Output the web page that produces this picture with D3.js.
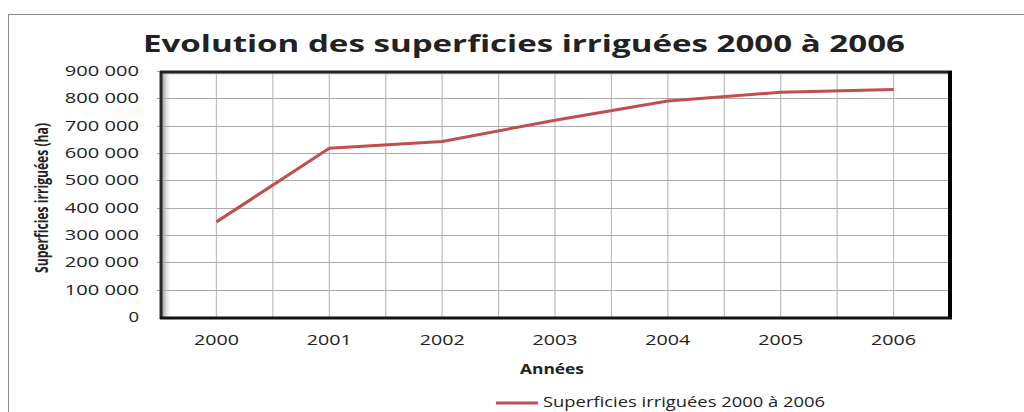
<!DOCTYPE html>
<html>
<head>
<meta charset="utf-8">
<script src="https://cdn.jsdelivr.net/npm/d3@7"></script>
<style>
  body { margin: 0; background: #fff; }
  text { font-family: "Open Sans", sans-serif; fill: #222; }
</style>
</head>
<body>
<div id="chart"></div>
<script>
    // data
    let years = ["2000", "2001", "2002", "2003", "2004", "2005", "2006"];
    let surfaces = [348000, 617000, 642000, 720000, 790000, 822000, 832000];
    let yTicks = [0, 100000, 200000, 300000, 400000, 500000, 600000, 700000, 800000, 900000];
    let seriesName = "Superficies irriguées 2000 à 2006";

    let svgWidth = 1024;
    let svgHeight = 412;
    let plot = {left: 160, top: 71, right: 950, bottom: 317};

    let svg = d3.select("#chart")
        .append("svg")
        .attr("width", svgWidth)
        .attr("height", svgHeight);

    // outer chart frame
    svg.append("rect")
        .attr("x", 8.5).attr("y", 14.5)
        .attr("width", 1030).attr("height", 420)
        .attr("fill", "none")
        .attr("stroke", "#8c8c8c")
        .attr("stroke-width", 1);

    let x = d3.scaleBand()
        .domain(years)
        .range([plot.left, plot.right]);

    let y = d3.scaleLinear()
        .domain([0, 900000])
        .range([plot.bottom, plot.top]);

    // shadow gradient inside left and top of plot
    let defs = svg.append("defs");
    let gl = defs.append("linearGradient").attr("id", "shL");
    gl.append("stop").attr("offset", "0%").attr("stop-color", "#555").attr("stop-opacity", 0.9);
    gl.append("stop").attr("offset", "100%").attr("stop-color", "#fff").attr("stop-opacity", 0);
    let gt = defs.append("linearGradient").attr("id", "shT").attr("x2", 0).attr("y2", 1);
    gt.append("stop").attr("offset", "0%").attr("stop-color", "#666").attr("stop-opacity", 0.8);
    gt.append("stop").attr("offset", "100%").attr("stop-color", "#fff").attr("stop-opacity", 0);

    svg.append("rect")
        .attr("x", plot.left).attr("y", plot.top)
        .attr("width", plot.right - plot.left).attr("height", plot.bottom - plot.top)
        .attr("fill", "#fff");
    svg.append("rect")
        .attr("x", plot.left).attr("y", plot.top)
        .attr("width", 12).attr("height", plot.bottom - plot.top)
        .attr("fill", "url(#shL)");
    svg.append("rect")
        .attr("x", plot.left).attr("y", plot.top)
        .attr("width", plot.right - plot.left).attr("height", 6)
        .attr("fill", "url(#shT)");

    // vertical grid: band edges and centres
    let vLines = [];
    years.forEach(d => {
        vLines.push(x(d));
        vLines.push(x(d) + x.bandwidth() / 2);
    });
    svg.append("g").selectAll("line")
        .data(vLines.slice(1))
        .enter()
        .append("line")
        .attr("x1", d => d).attr("x2", d => d)
        .attr("y1", plot.top).attr("y2", plot.bottom)
        .attr("stroke", "#bdbdbd")
        .attr("stroke-width", 1.2);

    // horizontal grid
    svg.append("g").selectAll("line")
        .data(yTicks.slice(1))
        .enter()
        .append("line")
        .attr("x1", plot.left - 3).attr("x2", plot.right)
        .attr("y1", d => Math.round(y(d)) + 0.5).attr("y2", d => Math.round(y(d)) + 0.5)
        .attr("stroke", "#ababab")
        .attr("stroke-width", 1);

    // y axis labels
    let fmt = d => d3.format(",")(d).replace(/,/g, " ");
    let leftAxis = d3.axisLeft(y)
        .tickValues(yTicks)
        .tickFormat(fmt)
        .tickSize(0)
        .tickPadding(21);
    let yAxis = svg.append("g")
        .attr("transform", `translate(${plot.left}, 0)`)
        .call(leftAxis);
    yAxis.select(".domain").remove();
    yAxis.selectAll("text")
        .style("font-family", "'Open Sans', sans-serif")
        .style("font-size", "14px")
        .attr("fill", "#333")
        .attr("textLength", d => fmt(d).length * 10.6)
        .attr("lengthAdjust", "spacingAndGlyphs");

    // x axis labels
    let bottomAxis = d3.axisBottom(x).tickSize(0).tickPadding(18);
    let xAxis = svg.append("g")
        .attr("transform", `translate(0, ${plot.bottom})`)
        .call(bottomAxis);
    xAxis.select(".domain").remove();
    xAxis.selectAll("text")
        .style("font-family", "'Open Sans', sans-serif")
        .style("font-size", "14px")
        .attr("fill", "#333")
        .attr("textLength", 45)
        .attr("lengthAdjust", "spacingAndGlyphs");

    // plot frame
    svg.append("line")
        .attr("x1", plot.left + 1).attr("x2", plot.left + 1)
        .attr("y1", plot.top).attr("y2", plot.bottom + 2)
        .attr("stroke", "#2a2a2a").attr("stroke-width", 3);
    svg.append("line")
        .attr("x1", plot.left).attr("x2", plot.right + 2)
        .attr("y1", plot.top + 1).attr("y2", plot.top + 1)
        .attr("stroke", "#222").attr("stroke-width", 3);
    svg.append("line")
        .attr("x1", plot.right).attr("x2", plot.right)
        .attr("y1", plot.top).attr("y2", plot.bottom + 2)
        .attr("stroke", "#000").attr("stroke-width", 4);
    svg.append("line")
        .attr("x1", plot.left).attr("x2", plot.right + 2)
        .attr("y1", plot.bottom + 1).attr("y2", plot.bottom + 1)
        .attr("stroke", "#111").attr("stroke-width", 3);

    // the series
    let line = d3.line()
        .x((d, i) => x(years[i]) + x.bandwidth() / 2)
        .y(d => y(d));
    svg.append("path")
        .datum(surfaces)
        .attr("d", line)
        .attr("fill", "none")
        .attr("stroke", "#c0504d")
        .attr("stroke-width", 3)
        .attr("stroke-linejoin", "round");

    // title
    svg.append("text")
        .attr("x", 143).attr("y", 52)
        .attr("textLength", 762)
        .attr("lengthAdjust", "spacingAndGlyphs")
        .style("font-size", "24px")
        .style("font-weight", "bold")
        .attr("fill", "#000")
        .text("Evolution des superficies irriguées 2000 à 2006");

    // y axis title
    svg.append("text")
        .attr("transform", "translate(48, 198) rotate(-90)")
        .attr("text-anchor", "middle")
        .attr("textLength", 150)
        .attr("lengthAdjust", "spacingAndGlyphs")
        .style("font-size", "18px")
        .style("font-weight", "bold")
        .attr("fill", "#000")
        .text("Superficies irriguées (ha)");

    // x axis title
    svg.append("text")
        .attr("x", 520).attr("y", 374)
        .attr("textLength", 64)
        .attr("lengthAdjust", "spacingAndGlyphs")
        .style("font-size", "14px")
        .style("font-weight", "bold")
        .attr("fill", "#000")
        .text("Années");

    // legend
    svg.append("line")
        .attr("x1", 496).attr("x2", 538)
        .attr("y1", 403).attr("y2", 403)
        .attr("stroke", "#c0504d").attr("stroke-width", 3);
    svg.append("text")
        .attr("x", 543).attr("y", 407)
        .attr("textLength", 282)
        .attr("lengthAdjust", "spacingAndGlyphs")
        .style("font-size", "15px")
        .attr("fill", "#333")
        .text(seriesName);
</script>
</body>
</html>
